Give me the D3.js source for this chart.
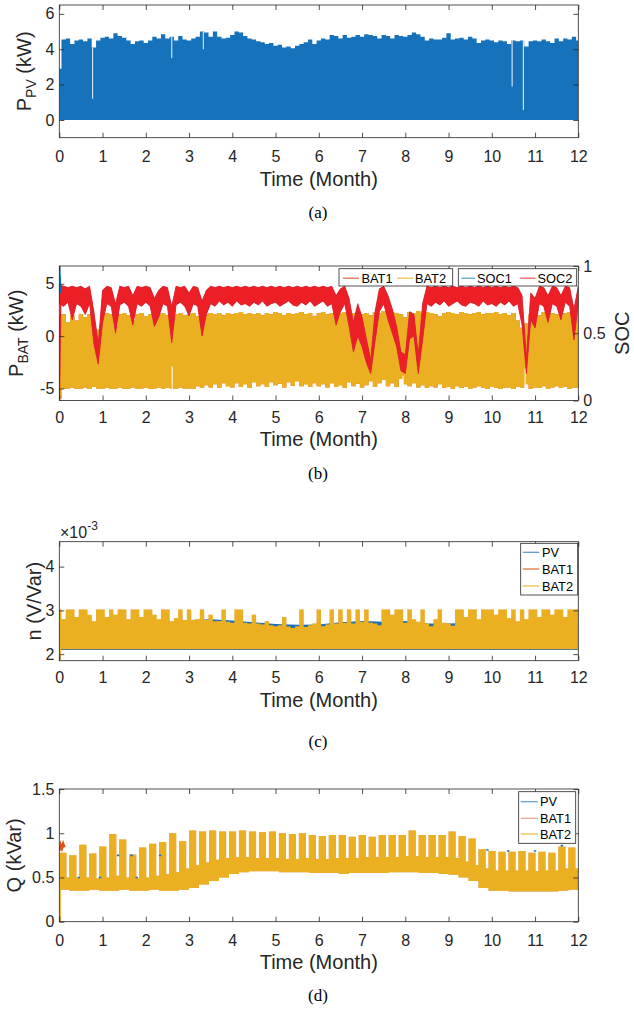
<!DOCTYPE html>
<html>
<head>
<meta charset="utf-8">
<script src="https://cdn.jsdelivr.net/npm/d3@7"></script>
<style>
  html, body { margin: 0; padding: 0; background: #fff; }
  svg { display: block; }
</style>
</head>
<body>
<svg id="fig" width="634" height="1011"></svg>
<script>
// ---------------- sampling ----------------
const ENV_STEP = 0.1;   // months between envelope samples (panels a, b, c)
const BASE_STEP = 0.5;  // months between slow-trend samples (panel c, PV)
const WEEKS = 52;       // weekly blocks (panel d)
const WORKDAYS = 5;     // high-demand days at the start of each week (panel d)

// ---------------- tick labels ----------------
const monthTicks = [0, 1, 2, 3, 4, 5, 6, 7, 8, 9, 10, 11, 12];
const pvTicks = [0, 2, 4, 6];
const batTicks = [-5, 0, 5];
const socTicks = [0, 0.5, 1];
const nTicks = [2, 3, 4];
const qTicks = [0, 0.5, 1, 1.5];

// ---------------- (a) PV active power, daily-peak envelope (kW) ----------------
const pvMax = [
  2.9, 4.55, 4.6, 4.3, 4.5, 4.55, 4.45, 4.6, 4.1, 4.5,
  4.65, 4.7, 4.6, 4.9, 4.75, 4.65, 4.5, 4.3, 4.45, 4.5,
  4.35, 4.5, 4.7, 4.6, 4.85, 4.6, 4.7, 4.5, 4.75, 4.55,
  4.5, 4.6, 4.7, 5.0, 4.95, 4.7, 5.0, 4.7, 4.6, 4.65,
  4.8, 5.0, 4.95, 4.75, 4.6, 4.55, 4.45, 4.4, 4.3, 4.35,
  4.2, 4.25, 4.1, 4.15, 4.05, 4.2, 4.3, 4.4, 4.55, 4.3,
  4.5, 4.6, 4.55, 4.8, 4.75, 4.6, 4.8, 4.65, 4.7, 4.8,
  4.7, 4.85, 4.8, 4.75, 4.6, 4.8, 4.75, 4.6, 4.8, 4.75,
  4.7, 4.8, 4.95, 4.85, 4.7, 4.5, 4.6, 4.55, 4.55, 4.65,
  4.9, 4.55, 4.6, 4.65, 4.55, 4.7, 4.6, 4.35, 4.5, 4.55,
  4.5, 4.4, 4.5, 4.45, 4.3, 4.5, 4.45, 4.5, 4.15, 4.45,
  4.5, 4.45, 4.55, 4.45, 4.35, 4.6, 4.45, 4.6, 4.55, 4.7,
  4.5
];
// overcast days: [month, peak kW]
const pvLowDays = [[0.77, 1.2], [2.6, 3.5], [3.33, 4.0], [10.47, 1.9], [10.73, 0.57]];

// ---------------- (b) battery power envelopes (kW) ----------------
const bat2Max = [
  2.0, 2.1, 1.3, 2.0, 1.5, 2.1, 1.8, 2.1, 1.0, 0.6,
  2.0, 2.2, 2.1, 0.9, 2.1, 2.2, 2.0, 1.5, 2.1, 2.2,
  1.9, 2.1, 1.6, 2.1, 2.2, 2.0, 1.4, 2.1, 2.2, 2.0,
  2.1, 2.2, 1.9, 1.2, 2.1, 2.2, 2.1, 2.2, 2.0, 2.2,
  2.1, 2.2, 2.3, 2.1, 2.2, 2.1, 2.2, 2.0, 2.2, 2.1,
  2.3, 2.2, 2.0, 2.2, 2.1, 2.2, 2.3, 2.1, 2.2, 1.9,
  2.2, 2.3, 2.1, 2.2, 1.8, 2.2, 2.3, 2.1, 2.2, 2.3,
  2.1, 2.2, 2.0, 2.3, 2.2, 2.4, 2.2, 2.3, 2.2, 2.1,
  1.8, 2.3, 2.2, 2.4, 2.2, 2.3, 2.2, 2.1, 1.9, 2.2,
  2.3, 2.2, 2.1, 2.3, 2.2, 2.1, 2.2, 2.3, 2.1, 2.2,
  2.2, 2.3, 2.1, 2.2, 2.0, 2.2, 1.5, 0.8, 1.2, 2.1,
  2.2, 2.0, 2.3, 2.1, 2.2, 2.1, 1.9, 2.2, 2.3, 2.1,
  2.2
];
const bat2Min = [
  -6.0, -5.05, -5.0, -4.95, -5.05, -5.0, -4.9, -5.05, -4.85, -5.0,
  -5.05, -4.95, -5.05, -5.0, -4.95, -5.05, -5.0, -4.9, -5.05, -5.0,
  -4.95, -5.05, -5.0, -4.9, -5.05, -4.95, -5.0, -5.05, -4.9, -5.0,
  -5.0, -5.05, -4.8, -4.95, -4.7, -4.9, -4.6, -4.95, -4.5, -4.8,
  -4.9, -4.5, -4.85, -4.6, -4.95, -4.4, -4.8, -4.6, -4.85, -4.4,
  -4.7, -4.55, -4.9, -4.4, -4.75, -4.3, -4.8, -4.6, -4.85, -4.5,
  -4.8, -4.6, -4.9, -4.5, -4.85, -4.7, -4.95, -4.4, -4.8, -4.55,
  -4.9, -4.7, -4.3, -4.85, -4.5, -4.2, -4.8, -4.5, -4.85, -4.1,
  -4.6, -4.8, -4.5, -4.9, -4.7, -4.95, -4.8, -4.9, -4.6, -4.95,
  -4.85, -5.05, -4.8, -4.95, -4.85, -5.05, -4.9, -4.8, -4.95, -5.05,
  -4.85, -4.95, -5.05, -4.9, -4.95, -5.05, -4.85, -4.95, -4.6, -5.05,
  -4.9, -4.95, -4.8, -5.05, -4.9, -4.8, -4.95, -4.85, -5.05, -4.9,
  -4.95
];
// idle days of battery discharge: [month, kW]
const bat2IdleDays = [[2.61, -2.9], [7.95, -3.8], [10.77, -3.1]];

// ---------------- (b) state of charge envelopes ----------------
const socMax = [
  0.86, 0.85, 0.84, 0.85, 0.84, 0.85, 0.83, 0.85, 0.66, 0.42,
  0.82, 0.85, 0.84, 0.72, 0.85, 0.84, 0.85, 0.78, 0.85, 0.84,
  0.85, 0.84, 0.76, 0.82, 0.85, 0.84, 0.70, 0.85, 0.84, 0.85,
  0.80, 0.85, 0.84, 0.74, 0.82, 0.85, 0.84, 0.85, 0.84, 0.85,
  0.84, 0.85, 0.84, 0.85, 0.84, 0.85, 0.84, 0.85, 0.84, 0.85,
  0.84, 0.85, 0.84, 0.85, 0.84, 0.85, 0.84, 0.85, 0.84, 0.85,
  0.84, 0.85, 0.84, 0.85, 0.78, 0.83, 0.85, 0.76, 0.58, 0.72,
  0.62, 0.46, 0.30, 0.66, 0.83, 0.85, 0.78, 0.68, 0.55, 0.36,
  0.34, 0.66, 0.64, 0.34, 0.72, 0.85, 0.84, 0.85, 0.84, 0.85,
  0.84, 0.85, 0.84, 0.85, 0.84, 0.85, 0.84, 0.85, 0.84, 0.85,
  0.84, 0.85, 0.84, 0.85, 0.84, 0.85, 0.84, 0.78, 0.32, 0.80,
  0.76, 0.85, 0.84, 0.78, 0.85, 0.84, 0.78, 0.85, 0.84, 0.68,
  0.85
];
const socMin = [
  0.72, 0.70, 0.73, 0.60, 0.72, 0.70, 0.64, 0.72, 0.42, 0.27,
  0.58, 0.72, 0.70, 0.50, 0.71, 0.73, 0.70, 0.56, 0.72, 0.70,
  0.73, 0.70, 0.55, 0.62, 0.72, 0.70, 0.43, 0.71, 0.73, 0.70,
  0.63, 0.72, 0.70, 0.48, 0.64, 0.72, 0.70, 0.74, 0.71, 0.73,
  0.70, 0.74, 0.71, 0.72, 0.70, 0.73, 0.71, 0.74, 0.70, 0.72,
  0.73, 0.70, 0.72, 0.74, 0.71, 0.70, 0.73, 0.71, 0.74, 0.70,
  0.72, 0.74, 0.70, 0.72, 0.56, 0.66, 0.72, 0.55, 0.36, 0.48,
  0.40, 0.28, 0.20, 0.44, 0.66, 0.72, 0.60, 0.50, 0.40, 0.22,
  0.20, 0.46, 0.48, 0.20, 0.45, 0.72, 0.70, 0.73, 0.71, 0.74,
  0.70, 0.72, 0.74, 0.71, 0.70, 0.73, 0.72, 0.70, 0.74, 0.71,
  0.72, 0.70, 0.73, 0.71, 0.74, 0.70, 0.72, 0.56, 0.20, 0.60,
  0.54, 0.72, 0.70, 0.58, 0.72, 0.70, 0.60, 0.73, 0.70, 0.45,
  0.72
];
// first hours of the run
const socHeadT = [0, 0.03];
const soc1Head = [1.0, 0.8];
const soc2Head = [0.0, 0.72];

// ---------------- (c) droop coefficient n (x1e-3 V/Var) ----------------
const nBat2Top = [
  3.02, 2.80, 3.02, 3.02, 2.85, 3.02, 3.02, 2.90, 2.75, 3.02,
  3.02, 2.85, 3.02, 2.90, 3.02, 3.02, 2.80, 3.02, 3.02, 2.85,
  3.02, 3.02, 2.90, 2.80, 3.02, 3.02, 2.75, 2.82, 3.02, 2.78,
  3.02, 2.78, 2.80, 3.02, 2.78, 2.90, 2.75, 2.76, 3.02, 2.74,
  2.72, 3.02, 3.02, 2.72, 2.70, 2.90, 2.70, 2.68, 2.75, 2.66,
  2.64, 2.66, 2.85, 2.63, 2.60, 2.64, 3.02, 2.62, 2.66, 2.70,
  3.02, 2.64, 2.68, 3.02, 2.70, 3.02, 2.72, 3.02, 2.70, 3.02,
  2.74, 3.02, 2.72, 2.70, 2.66, 3.02, 3.02, 2.90, 3.02, 3.02,
  2.72, 3.02, 2.80, 2.74, 3.02, 2.70, 2.64, 2.80, 3.02, 2.72,
  2.70, 2.65, 3.02, 3.02, 2.85, 3.02, 3.02, 2.80, 3.02, 3.02,
  3.02, 2.90, 3.02, 3.02, 2.82, 3.02, 2.75, 3.02, 2.80, 3.02,
  3.02, 2.85, 3.02, 3.02, 2.90, 3.02, 3.02, 2.85, 3.02, 3.02,
  3.02
];
const nPvBase = [
  2.70, 2.70, 2.70, 2.70, 2.70, 2.72, 2.78, 2.80, 2.77, 2.73,
  2.69, 2.67, 2.68, 2.73, 2.76, 2.74, 2.76, 2.70, 2.70, 2.72,
  2.70, 2.70, 2.70, 2.70, 2.70
];
const nBandFloor = 2.11;
const nPvFloor = 2.095;
const nFirstSample = 1.88;

// ---------------- (d) reactive power, weekly blocks (kVar) ----------------
const qHigh = [
  0.78, 0.75, 0.87, 0.77, 0.85, 0.99, 0.93, 0.76, 0.84, 0.88, 0.90, 1.00, 0.91,
  1.03, 1.02, 1.03, 1.02, 1.02, 1.03, 1.02, 1.01, 1.02, 1.00, 0.99, 1.00, 0.98,
  0.97, 0.98, 0.98, 0.96, 0.98, 0.96, 0.98, 0.98, 0.98, 1.03, 0.98, 0.98, 0.98,
  1.02, 0.97, 0.94, 0.82, 0.80, 0.79, 0.79, 0.80, 0.78, 0.79, 0.78, 0.85, 0.84
];
const qMid = [
  0.50, 0.49, 0.50, 0.49, 0.50, 0.52, 0.50, 0.49, 0.50, 0.52, 0.54, 0.56, 0.60,
  0.64, 0.67, 0.70, 0.72, 0.73, 0.73, 0.72, 0.72, 0.72, 0.71, 0.71, 0.72, 0.71,
  0.71, 0.72, 0.72, 0.72, 0.73, 0.73, 0.73, 0.73, 0.74, 0.74, 0.73, 0.73, 0.73,
  0.72, 0.68, 0.64, 0.60, 0.58, 0.58, 0.58, 0.58, 0.57, 0.58, 0.58, 0.60, 0.60
];
const qLow = [
  0.36, 0.35, 0.35, 0.36, 0.35, 0.35, 0.36, 0.35, 0.35, 0.36, 0.35, 0.35, 0.36,
  0.38, 0.42, 0.46, 0.50, 0.54, 0.56, 0.57, 0.57, 0.57, 0.56, 0.56, 0.56, 0.55,
  0.55, 0.55, 0.54, 0.55, 0.55, 0.55, 0.55, 0.56, 0.56, 0.56, 0.55, 0.55, 0.54,
  0.53, 0.50, 0.46, 0.38, 0.35, 0.35, 0.34, 0.34, 0.34, 0.34, 0.34, 0.35, 0.36
];
// PV peaks showing above the battery traces: [month, kVar]
const qPvPeaks = [
  [0.45, 0.50], [0.94, 0.50], [1.36, 0.75], [1.67, 0.75], [1.79, 0.50], [2.33, 0.75],
  [9.9, 0.81], [10.38, 0.80], [11.0, 0.80], [11.62, 0.86]
];
// BAT1 during the first days
const qBat1HeadT = [0.0, 0.03, 0.06, 0.09, 0.12];
const qBat1Head = [0.80, 0.87, 0.83, 0.88, 0.84];
const qFirstSample = 0.0;

// ---------------- styling ----------------
const FONT = '"Liberation Sans", Arial, Helvetica, sans-serif';
const SERIF = '"Liberation Serif", "Times New Roman", serif';
const INK = '#262626';
const C_PV = '#1672ba';
const C_BAT1 = '#d95319';
const C_BAT2 = '#ebb021';
const C_SOC1 = '#0072bd';
const C_SOC2 = '#ec1f27';

const svg = d3.select('#fig');
const defs = svg.append('defs');

const X_LEFT = 59.3, X_RIGHT = 578.3, X_MID = (X_LEFT + X_RIGHT) / 2;
const x = d3.scaleLinear().domain([0, 12]).range([X_LEFT, X_RIGHT]);

const envRows = arr => arr.map((v, i) => ({ t: i * ENV_STEP, v }));

function panel(id, top, bottom) {
  defs.append('clipPath').attr('id', 'clip-' + id)
    .append('rect').attr('x', X_LEFT).attr('y', top)
    .attr('width', X_RIGHT - X_LEFT).attr('height', bottom - top);
  const g = svg.append('g');
  const plot = g.append('g').attr('clip-path', `url(#clip-${id})`);
  return { g, plot, top, bottom };
}

function styleAxis(sel) {
  sel.attr('font-family', FONT).attr('font-size', 16);
  sel.select('.domain').remove();
  sel.selectAll('.tick line').attr('stroke', INK).attr('stroke-width', 0.8);
  sel.selectAll('.tick text').attr('fill', INK);
}

const fmt = d => String(d);

function frameAxes(p, y, yTicks, xPad, mirrorY) {
  p.g.append('g').attr('transform', `translate(0,${p.bottom})`)
    .call(d3.axisBottom(x).tickValues(monthTicks).tickSizeInner(-5).tickSizeOuter(0).tickPadding(xPad).tickFormat(fmt))
    .call(styleAxis);
  p.g.append('g').attr('transform', `translate(0,${p.top})`)
    .call(d3.axisTop(x).tickValues(monthTicks).tickSizeInner(-5).tickSizeOuter(0).tickFormat(''))
    .call(styleAxis);
  p.g.append('g').attr('transform', `translate(${X_LEFT},0)`)
    .call(d3.axisLeft(y).tickValues(yTicks).tickSizeInner(-5).tickSizeOuter(0).tickPadding(5).tickFormat(fmt))
    .call(styleAxis);
  if (mirrorY) {
    p.g.append('g').attr('transform', `translate(${X_RIGHT},0)`)
      .call(d3.axisRight(y).tickValues(yTicks).tickSizeInner(-5).tickSizeOuter(0).tickFormat(''))
      .call(styleAxis);
  }
  p.g.append('rect').attr('x', X_LEFT).attr('y', p.top)
    .attr('width', X_RIGHT - X_LEFT).attr('height', p.bottom - p.top)
    .attr('fill', 'none').attr('stroke', INK).attr('stroke-width', 0.8);
}

function xTitle(p, baseline) {
  p.g.append('text').attr('x', X_MID).attr('y', baseline)
    .attr('text-anchor', 'middle').attr('font-family', FONT).attr('font-size', 20).attr('fill', INK)
    .text('Time (Month)');
}

function yTitle(p, xBase, yMid, parts, angle = -90) {
  const t = p.g.append('text')
    .attr('transform', `translate(${xBase},${yMid}) rotate(${angle})`)
    .attr('text-anchor', 'middle').attr('font-family', FONT).attr('font-size', 20).attr('fill', INK);
  parts.forEach(([s, kind]) => {
    const ts = t.append('tspan').text(s);
    if (kind === 'sub') ts.attr('font-size', 14).attr('dy', 5);
    if (kind === 'back') ts.attr('dy', -5);
  });
}

function caption(text, baseline) {
  svg.append('text').attr('x', 318).attr('y', baseline)
    .attr('text-anchor', 'middle').attr('font-family', SERIF).attr('font-size', 17).attr('fill', '#000')
    .text(text);
}

function legend(g, box, entries) {
  g.append('rect').attr('x', box[0]).attr('y', box[1]).attr('width', box[2]).attr('height', box[3])
    .attr('fill', '#fff').attr('stroke', INK).attr('stroke-width', 0.8);
  entries.forEach(e => {
    g.append('line').attr('x1', e.lx[0]).attr('x2', e.lx[1]).attr('y1', e.cy).attr('y2', e.cy)
      .attr('stroke', e.color).attr('stroke-width', 1.3).attr('stroke-opacity', e.op ?? 0.8);
    g.append('text').attr('x', e.tx).attr('y', e.cy + 4.6)
      .attr('font-family', FONT).attr('font-size', 12.8).attr('fill', '#000').text(e.label);
  });
}

// ======================= (a) =======================
{
  const p = panel('a', 5, 137.7);
  const y = d3.scaleLinear().domain([-1, 6.5]).range([p.bottom, p.top]);
  const rows = envRows(pvMax);
  p.plot.append('path').datum(rows)
    .attr('fill', C_PV)
    .attr('d', d3.area().curve(d3.curveStep).x(d => x(d.t)).y0(y(0)).y1(d => y(d.v)));
  p.plot.selectAll('line.low').data(pvLowDays).join('line')
    .attr('x1', d => x(d[0])).attr('x2', d => x(d[0]))
    .attr('y1', d => y(d[1])).attr('y2', d => y(pvMax[Math.round(d[0] / ENV_STEP)]))
    .attr('stroke', '#fff').attr('stroke-width', 1.1).attr('stroke-opacity', 0.85);
  frameAxes(p, y, pvTicks, 12.9, true);
  xTitle(p, 186.3);
  yTitle(p, 30.5, (p.top + p.bottom) / 2, [['P'], ['PV', 'sub'], [' (kW)', 'back']]);
  caption('(a)', 217.5);
}

// ======================= (b) =======================
{
  const p = panel('b', 266, 400.5);
  const y = d3.scaleLinear().domain([-6.15, 6.7]).range([p.bottom, p.top]);
  const ySoc = d3.scaleLinear().domain([0, 1]).range([p.bottom, p.top]);
  const powRows = bat2Max.map((v, i) => ({ t: i * ENV_STEP, hi: v, lo: bat2Min[i] }));
  const powArea = d3.area().curve(d3.curveStep).x(d => x(d.t)).y0(d => y(d.lo)).y1(d => y(d.hi));
  // BAT1 and BAT2 overlap almost exactly; BAT1 lies underneath
  p.plot.append('path').datum(powRows).attr('fill', C_BAT1).attr('d', powArea);
  p.plot.append('path').datum(powRows).attr('fill', C_BAT2).attr('d', powArea);
  p.plot.selectAll('line.idle').data(bat2IdleDays).join('line')
    .attr('x1', d => x(d[0])).attr('x2', d => x(d[0]))
    .attr('y1', d => y(d[1])).attr('y2', p.bottom)
    .attr('stroke', '#fff').attr('stroke-width', 1);

  const socRows = socMax.map((v, i) => ({ t: i * ENV_STEP, hi: v, lo: socMin[i] }));
  const socArea = d3.area().x(d => x(d.t)).y0(d => ySoc(d.lo)).y1(d => ySoc(d.hi));
  p.plot.append('path').datum(socRows).attr('fill', C_SOC1).attr('d', socArea);
  p.plot.append('path').datum(socRows).attr('fill', C_SOC2).attr('d', socArea)
    .attr('stroke', C_SOC2).attr('stroke-width', 0.8);
  const headLine = d3.line().x(d => x(d[0])).y(d => ySoc(d[1]));
  p.plot.append('path').datum(socHeadT.map((t, i) => [t, soc1Head[i]]))
    .attr('fill', 'none').attr('stroke', C_SOC1).attr('stroke-width', 2).attr('d', headLine);
  p.plot.append('path').datum(socHeadT.map((t, i) => [t, soc2Head[i]]))
    .attr('fill', 'none').attr('stroke', C_SOC2).attr('stroke-width', 1.5).attr('d', headLine);

  frameAxes(p, y, batTicks, 11.1, false);
  p.g.append('g').attr('transform', `translate(${X_RIGHT},0)`)
    .call(d3.axisRight(ySoc).tickValues(socTicks).tickSizeInner(-5).tickSizeOuter(0).tickPadding(5).tickFormat(fmt))
    .call(styleAxis);

  legend(p.g, [339, 268.7, 113.7, 17.3], [
    { label: 'BAT1', color: C_BAT1, lx: [343, 359], tx: 361.5, cy: 278.2 },
    { label: 'BAT2', color: C_BAT2, lx: [397, 413], tx: 415, cy: 278.2 }
  ]);
  legend(p.g, [458.3, 268.7, 118.4, 17.3], [
    { label: 'SOC1', color: C_SOC1, lx: [461.5, 475], tx: 477, cy: 278.2, op: 0.65 },
    { label: 'SOC2', color: C_SOC2, lx: [520, 535.5], tx: 537.5, cy: 278.2, op: 0.7 }
  ]);

  xTitle(p, 446.3);
  yTitle(p, 23, (p.top + p.bottom) / 2, [['P'], ['BAT', 'sub'], [' (kW)', 'back']]);
  yTitle(p, 629, (p.top + p.bottom) / 2, [['SOC']]);
  caption('(b)', 478.5);
}

// ======================= (c) =======================
{
  const p = panel('c', 541.7, 660.7);
  const y = d3.scaleLinear().domain([1.85, 4.57]).range([p.bottom, p.top]);
  const pvRows = nPvBase.map((v, i) => ({ t: i * BASE_STEP, v }));
  p.plot.append('path').datum(pvRows).attr('fill', C_PV)
    .attr('d', d3.area().x(d => x(d.t)).y0(y(nPvFloor)).y1(d => y(d.v)));
  const rows = envRows(nBat2Top);
  const band = d3.area().curve(d3.curveStep).x(d => x(d.t)).y0(y(nBandFloor)).y1(d => y(d.v));
  p.plot.append('path').datum(rows).attr('fill', C_BAT1).attr('fill-opacity', 0.35).attr('d', band);
  p.plot.append('path').datum(rows).attr('fill', C_BAT2).attr('d', band);
  p.plot.append('line').attr('x1', x(0) + 0.8).attr('x2', x(0) + 0.8)
    .attr('y1', y(nFirstSample)).attr('y2', y(nBat2Top[0]))
    .attr('stroke', C_BAT2).attr('stroke-width', 1.6);

  frameAxes(p, y, nTicks, 10.9, true);
  // axis exponent
  const ex = p.g.append('text').attr('x', 60).attr('y', 538.3)
    .attr('font-family', FONT).attr('font-size', 16).attr('fill', INK);
  ex.append('tspan').text('×10');
  ex.append('tspan').attr('font-size', 12).attr('dy', -8).text('-3');

  legend(p.g, [520.7, 543.3, 57, 51.7], [
    { label: 'PV', color: C_PV, lx: [522.7, 539.3], tx: 542, cy: 552.3, op: 0.7 },
    { label: 'BAT1', color: C_BAT1, lx: [522.7, 539.3], tx: 542, cy: 569 },
    { label: 'BAT2', color: C_BAT2, lx: [522.7, 539.3], tx: 542, cy: 586 }
  ]);
  xTitle(p, 707.3);
  yTitle(p, 40.5, (p.top + p.bottom) / 2, [['n (V/Var)']]);
  caption('(c)', 746.5);
}

// ======================= (d) =======================
{
  const p = panel('d', 789, 921.7);
  const y = d3.scaleLinear().domain([0, 1.5]).range([p.bottom, p.top]);
  const weekLen = 12 / WEEKS;
  const weekRows = [];
  qHigh.forEach((h, k) => {
    const t0 = k * weekLen;
    weekRows.push({ t: t0, top: h, low: qLow[k] });
    weekRows.push({ t: t0 + weekLen * WORKDAYS / 7, top: qMid[k], low: qLow[k] });
  });
  weekRows.push({ t: 12, top: qMid[WEEKS - 1], low: qLow[WEEKS - 1] });
  const weekArea = d3.area().curve(d3.curveStepAfter)
    .x(d => x(d.t)).y0(d => y(d.low)).y1(d => y(d.top));
  // BAT1 follows BAT2 closely and sits underneath it
  p.plot.append('path').datum(weekRows).attr('fill', C_BAT1).attr('fill-opacity', 0.5).attr('d', weekArea);
  p.plot.append('path').datum(qBat1HeadT.map((t, i) => [t, qBat1Head[i]]))
    .attr('fill', 'none').attr('stroke', C_BAT1).attr('stroke-width', 2.5)
    .attr('d', d3.line().x(d => x(d[0])).y(d => y(d[1])));
  p.plot.append('path').datum(weekRows).attr('fill', C_BAT2).attr('d', weekArea);
  p.plot.append('line').attr('x1', x(0) + 0.8).attr('x2', x(0) + 0.8)
    .attr('y1', y(qFirstSample)).attr('y2', y(qLow[0]))
    .attr('stroke', C_BAT2).attr('stroke-width', 1.6);
  p.plot.selectAll('line.pk').data(qPvPeaks).join('line')
    .attr('x1', d => x(d[0]) - 1.2).attr('x2', d => x(d[0]) + 1.2)
    .attr('y1', d => y(d[1])).attr('y2', d => y(d[1]))
    .attr('stroke', C_PV).attr('stroke-width', 1.6);

  frameAxes(p, y, qTicks, 12.9, true);
  legend(p.g, [518.7, 791.7, 57, 51.6], [
    { label: 'PV', color: C_PV, lx: [520.7, 538], tx: 540, cy: 801.7, op: 0.65 },
    { label: 'BAT1', color: C_BAT1, lx: [520.7, 538], tx: 540, cy: 818.3, op: 0.5 },
    { label: 'BAT2', color: C_BAT2, lx: [520.7, 538], tx: 540, cy: 834 }
  ]);
  xTitle(p, 969.3);
  yTitle(p, 21, (p.top + p.bottom) / 2, [['Q (kVar)']]);
  caption('(d)', 1000.5);
}
</script>
</body>
</html>
